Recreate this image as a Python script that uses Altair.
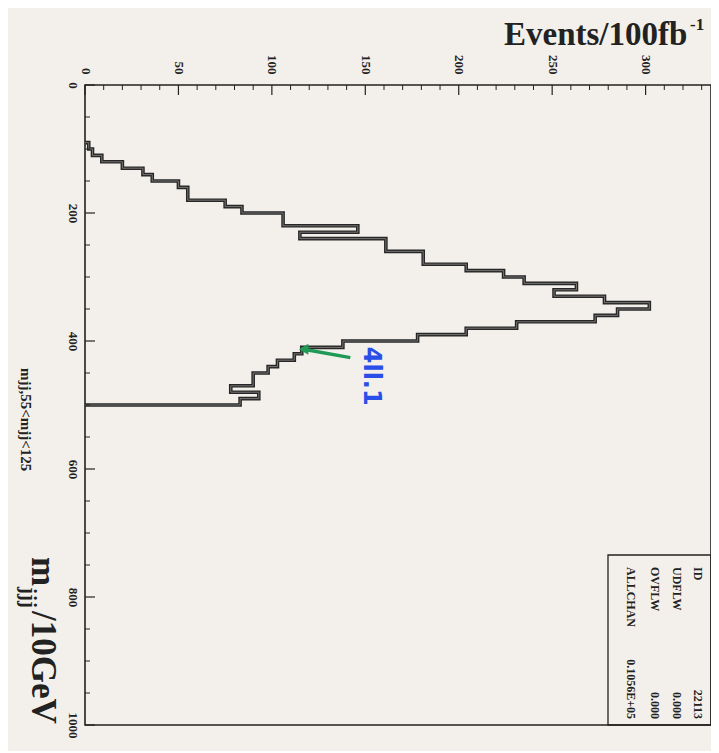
import altair as alt
import pandas as pd

# ---------------- data ----------------
# histogram bins in m_jjj (GeV, 10 GeV wide) and Events/100fb^-1
bin_low = [90, 100, 110, 120, 130, 140, 150, 160, 170, 180,
           190, 200, 210, 220, 230, 240, 250, 260, 270, 280,
           290, 300, 310, 320, 330, 340, 350, 360, 370, 380,
           390, 400, 410, 420, 430, 440, 450, 460, 470, 480, 490]
bin_high = [100, 110, 120, 130, 140, 150, 160, 170, 180, 190,
            200, 210, 220, 230, 240, 250, 260, 270, 280, 290,
            300, 310, 320, 330, 340, 350, 360, 370, 380, 390,
            400, 410, 420, 430, 440, 450, 460, 470, 480, 490, 500]
events = [2, 4, 9, 20, 31, 36, 50, 55, 55, 75,
          84, 106, 106, 146, 115, 161, 161, 181, 181, 204,
          224, 235, 263, 251, 278, 302, 285, 273, 231, 204,
          178, 138, 116, 112, 103, 98, 90, 90, 78, 93, 83]

# axis ticks
ev_major = [0, 50, 100, 150, 200, 250, 300]
ev_minor = [10, 20, 30, 40, 60, 70, 80, 90, 110, 120, 130, 140, 160, 170, 180, 190,
            210, 220, 230, 240, 260, 270, 280, 290, 310, 320, 330]
m_major = [0, 200, 400, 600, 800, 1000]
m_minor = [50, 100, 150, 250, 300, 350, 450, 500, 550, 650, 700, 750, 850, 900, 950]

# statistics box
stat_names = ["ID", "UDFLW", "OVFLW", "ALLCHAN"]
stat_values = ["22113", "0.000", "0.000", "0.1056E+05"]
stat_x = [613, 592, 570, 546]

# handwritten annotation
note_text = ["4ll.1"]
note_ev = [153]
note_m = [455]
arrow_ev = [142, 117]
arrow_m = [426, 413]

# ---------------- build step outline ----------------
rows = [{"i": 0, "ev": 0, "m": bin_low[0]}]
k = 1
for lo, hi, n in zip(bin_low, bin_high, events):
    rows.append({"i": k, "ev": n, "m": lo}); k += 1
    rows.append({"i": k, "ev": n, "m": hi}); k += 1
rows.append({"i": k, "ev": 0, "m": bin_high[-1]})
outline = pd.DataFrame(rows)

W, H = 626, 640
SERIF = "Liberation Serif"
INK = "#222222"

xscale = alt.Scale(domain=[0, 335], nice=False, zero=False)
yscale = alt.Scale(domain=[0, 1000], nice=False, zero=False, reverse=True)

x_axis = alt.Axis(orient="top", values=ev_major, format="d", labelAngle=90, labelAlign="right",
                  labelBaseline="middle", labelPadding=11, ticks=False, domain=False,
                  grid=False, labelFont=SERIF, labelFontWeight="bold", labelFontSize=13,
                  labelColor=INK, title="")
y_axis = alt.Axis(orient="left", values=m_major, format="d", labelAngle=90, labelAlign="center",
                  labelBaseline="top", labelPadding=7, ticks=False, domain=False,
                  grid=False, labelFont=SERIF, labelFontWeight="bold", labelFontSize=13,
                  labelColor=INK, title="")


def X(field):
    return alt.X(field, scale=xscale, axis=x_axis)


def Y(field):
    return alt.Y(field, scale=yscale, axis=y_axis)


hist_dark = alt.Chart(outline).mark_line(color="#262626", strokeWidth=3.6).encode(
    x=X("ev:Q"), y=Y("m:Q"), order="i:Q")
hist_light = alt.Chart(outline).mark_line(color="#8c8888", strokeWidth=0.8).encode(
    x=X("ev:Q"), y=Y("m:Q"), order="i:Q")

# ticks drawn inward (through the scales)
ev_maj_t = alt.Chart(pd.DataFrame({"ev": ev_major})).mark_rule(color=INK, strokeWidth=1.2).encode(
    x=X("ev:Q"), y=alt.value(0), y2=alt.value(10))
ev_min_t = alt.Chart(pd.DataFrame({"ev": ev_minor})).mark_rule(color=INK, strokeWidth=1.0).encode(
    x=X("ev:Q"), y=alt.value(0), y2=alt.value(5))
m_maj_t = alt.Chart(pd.DataFrame({"m": m_major})).mark_rule(color=INK, strokeWidth=1.2).encode(
    y=Y("m:Q"), x=alt.value(0), x2=alt.value(10))
m_min_t = alt.Chart(pd.DataFrame({"m": m_minor})).mark_rule(color=INK, strokeWidth=1.0).encode(
    y=Y("m:Q"), x=alt.value(0), x2=alt.value(5))

tdf = pd.DataFrame({"a": [0]})

# statistics box
box = alt.Chart(tdf).mark_rect(fill="transparent", stroke=INK, strokeWidth=1.3).encode(
    x=alt.value(523), x2=alt.value(W), y=alt.value(470), y2=alt.value(H))
stat_layers = []
for name, val, px in zip(stat_names, stat_values, stat_x):
    stat_layers.append(alt.Chart(tdf).mark_text(
        text=name, angle=90, align="left", baseline="middle", font=SERIF,
        fontWeight="bold", fontSize=12, color=INK).encode(x=alt.value(px), y=alt.value(482)))
    stat_layers.append(alt.Chart(tdf).mark_text(
        text=val, angle=90, align="right", baseline="middle", font=SERIF,
        fontWeight="bold", fontSize=12, color=INK).encode(x=alt.value(px), y=alt.value(634)))

# titles
t_events = alt.Chart(tdf).mark_text(text="Events/100fb", align="left", baseline="alphabetic",
                                    font=SERIF, fontWeight="bold", fontSize=33, color=INK).encode(
    x=alt.value(419), y=alt.value(-40))
t_events_sup = alt.Chart(tdf).mark_text(text="-1", align="left", baseline="alphabetic",
                                        font=SERIF, fontWeight="bold", fontSize=17, color=INK).encode(
    x=alt.value(605), y=alt.value(-55))
t_m = alt.Chart(tdf).mark_text(text="m", angle=90, align="left", baseline="alphabetic",
                               font=SERIF, fontWeight="bold", fontSize=35, color=INK).encode(
    x=alt.value(-53), y=alt.value(472))
t_jjj = alt.Chart(tdf).mark_text(text="jjj", angle=90, align="left", baseline="alphabetic",
                                 font=SERIF, fontWeight="bold", fontSize=21, color=INK).encode(
    x=alt.value(-63), y=alt.value(502))
t_rest = alt.Chart(tdf).mark_text(text="/10GeV", angle=90, align="left", baseline="alphabetic",
                                  font=SERIF, fontWeight="bold", fontSize=35, color=INK).encode(
    x=alt.value(-53), y=alt.value(526))
t_cut = alt.Chart(tdf).mark_text(text="mjj,55<mjj<125", angle=90, align="left", baseline="alphabetic",
                                 font=SERIF, fontWeight="bold", fontSize=15, color=INK).encode(
    x=alt.value(-64), y=alt.value(283))

# handwritten annotation
note = alt.Chart(pd.DataFrame({"ev": note_ev, "m": note_m, "t": note_text})).mark_text(
    angle=90, align="center", baseline="middle", font="DejaVu Sans", fontWeight="bold",
    fontSize=24, color="#2a4ee8").encode(x=X("ev:Q"), y=Y("m:Q"), text="t:N")
arrow_df = pd.DataFrame({"ev": arrow_ev, "m": arrow_m, "i": [0, 1]})
arrow = alt.Chart(arrow_df).mark_line(color="#1f9a55", strokeWidth=3.5).encode(
    x=X("ev:Q"), y=Y("m:Q"), order="i:Q")
arrow_head = alt.Chart(arrow_df.iloc[[1]]).mark_point(shape="triangle-left", filled=True,
                                                     color="#1f9a55", size=120, opacity=1).encode(
    x=X("ev:Q"), y=Y("m:Q"))

chart = alt.layer(
    hist_dark, hist_light, ev_maj_t, ev_min_t, m_maj_t, m_min_t,
    box, *stat_layers, t_events, t_events_sup, t_m, t_jjj, t_rest, t_cut,
    arrow, arrow_head, note,
).properties(
    width=W, height=H,
    autosize=alt.AutoSizeParams(type="none"),
    padding={"left": 77, "top": 77, "right": 0, "bottom": 26},
    background="#f3f0eb",
).configure_view(
    stroke=INK, strokeWidth=1.6, fill="#f3f0eb"
)

chart.save("out.html", embed_options={"renderer": "svg", "actions": False})
